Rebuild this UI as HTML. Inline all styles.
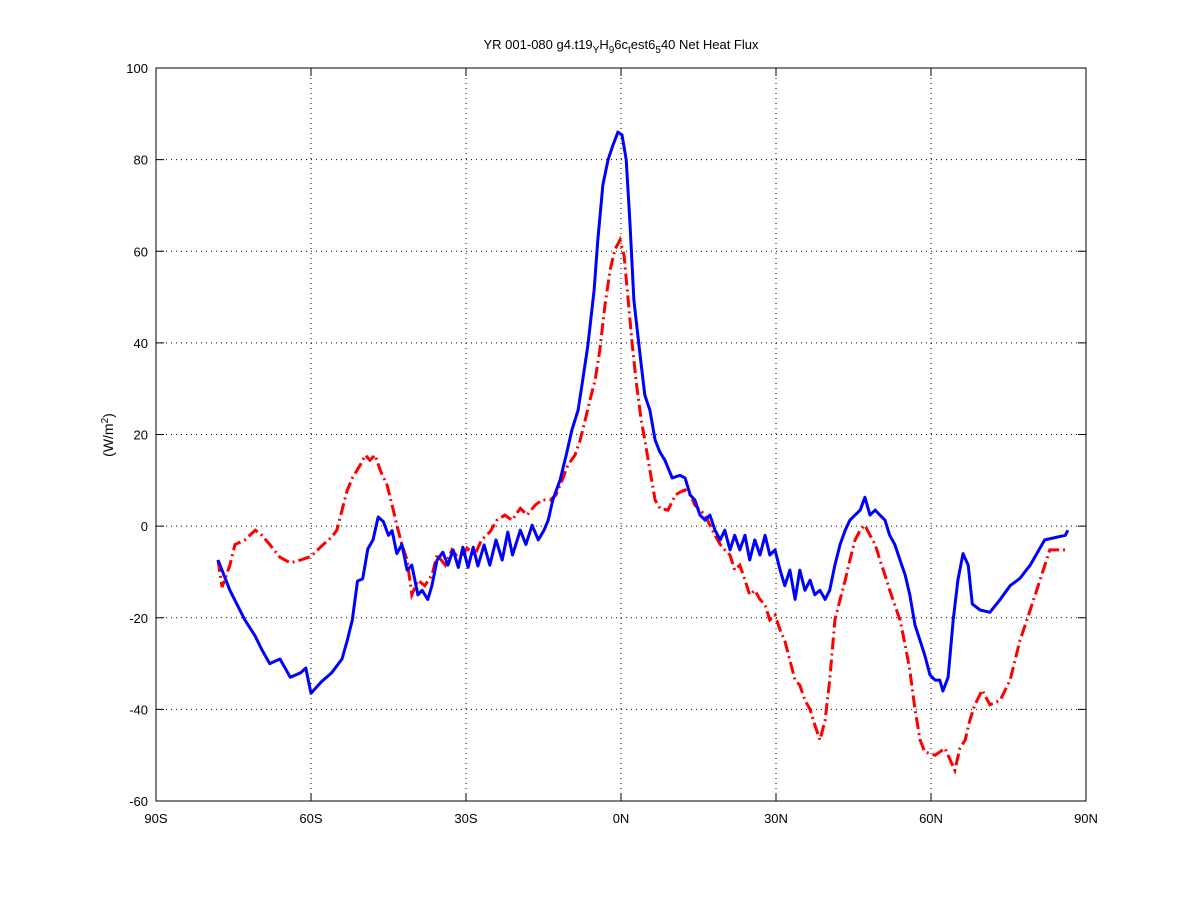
<!DOCTYPE html>
<html><head><meta charset="utf-8"><style>
body{margin:0;background:#fff;}
svg text{font-family:"Liberation Sans",sans-serif;fill:#000;}
</style></head><body>
<svg id="chart" width="1200" height="900" xmlns="http://www.w3.org/2000/svg">
<rect width="1200" height="900" fill="#fff"/>
<text x="621" y="49" font-size="13" text-anchor="middle">YR 001-080 g4.t19<tspan dy="4" font-size="10">Y</tspan><tspan dy="-4">H</tspan><tspan dy="4" font-size="10">9</tspan><tspan dy="-4">6c</tspan><tspan dy="4" font-size="10">t</tspan><tspan dy="-4">est6</tspan><tspan dy="4" font-size="10">5</tspan><tspan dy="-4">40    Net Heat Flux</tspan></text>
<text transform="translate(113,435) rotate(-90)" font-size="14" text-anchor="middle">(W/m<tspan dy="-5" font-size="10">2</tspan><tspan dy="5">)</tspan></text>
<g id="grid"></g><g id="series"></g><g id="axes"></g>
</svg>
<script>
const xTicks=[-90,-60,-30,0,30,60,90];
const xTickLabels=["90S","60S","30S","0N","30N","60N","90N"];
const yTicks=[-60,-40,-20,0,20,40,60,80,100];
const blueLat=[-78,-75.7,-72.8,-70.8,-69.5,-68,-66,-64,-62,-61,-60,-58,-56,-54,-53,-52,-51,-50,-49,-48,-47,-46,-45,-44.3,-43.4,-42.4,-41.4,-40.5,-39.3,-38.5,-37.4,-36.6,-35.6,-34.5,-33.5,-32.5,-31.5,-30.6,-29.6,-28.6,-27.7,-26.5,-25.4,-24.2,-23,-21.9,-21,-19.5,-18.4,-17.2,-16,-14.9,-14.1,-13.2,-11.8,-10.6,-9.5,-8.3,-7.4,-6.4,-5.2,-4.5,-3.5,-2.5,-1.6,-0.6,0.2,1,1.7,2.5,3.7,4.6,5.6,6.6,7.5,8.5,9.9,11.4,12.4,13.4,14.3,15.3,16.3,17.2,18.2,19.2,20.1,21.1,22,23,24,24.9,25.9,26.9,27.9,28.8,29.8,30.8,31.7,32.7,33.7,34.6,35.6,36.6,37.5,38.5,39.5,40.4,41.4,42.4,43.4,44.3,45.3,46.3,47.2,48.2,49.2,50.1,51.1,52,53,54,55,55.9,56.9,57.9,58.8,59.8,60.8,61.7,62.3,63.3,64.3,65.2,66.2,67.2,68,69.5,71.4,73.4,75.3,77.2,79.2,82,86,86.5];
const blueVal=[-7.4,-14,-20.5,-24,-27,-30,-29,-33,-32,-31,-36.5,-34,-32,-29,-25,-20.5,-12,-11.5,-5,-3,2,1,-2,-1,-6,-4,-9.6,-8.5,-15,-14,-16,-13,-7.4,-5.7,-8.5,-5.2,-9,-4.6,-9,-4.6,-8.7,-4.1,-8.5,-3,-7.4,-1.3,-6.3,-0.9,-4,0.2,-3,-0.9,1.3,5.7,10,15.5,21,25.3,32,39.5,51.5,62.4,74.5,80,83,86,85.4,80,66.8,49.3,37.3,28.6,25.3,18.8,16.2,14.4,10.5,11.1,10.5,6.8,5.7,2.4,1.3,2.4,-0.9,-3,-0.9,-5.2,-2,-5.2,-2,-7.4,-3,-6.3,-2,-6.3,-5.2,-9.6,-13,-9.6,-16,-9.6,-14,-11.8,-15,-14,-16,-14,-8.5,-4,-0.9,1.3,2.4,3.5,6.3,2.4,3.5,2.4,1.3,-2,-4,-7.4,-10.7,-15,-21.6,-25,-28.2,-32.5,-33.6,-33.6,-36,-33,-20.5,-11.8,-6,-8.5,-17,-18.3,-18.8,-16,-13,-11.4,-8.5,-3,-2,-0.9];
const redLat=[-78,-77.2,-75.7,-74.7,-72.8,-70.8,-69.5,-68,-66,-64,-62,-60,-58,-56,-55,-54,-53,-52,-50.5,-49.5,-48.6,-47.6,-46.6,-45.3,-44.3,-43.4,-42.4,-41.4,-40.5,-39.3,-38,-36.6,-35.6,-34,-32.7,-31.2,-29.8,-28.3,-27,-25.4,-24,-22.5,-21.1,-19.5,-18.2,-16.6,-15.3,-13.7,-12.6,-11.4,-10.3,-8.9,-7.9,-6.97,-6,-5,-4.1,-3.1,-2.1,-1.2,-0.2,0.6,1.4,2.1,2.9,3.9,4.6,5.6,6.6,7.5,9.1,10.5,11.4,12.4,13.4,14.3,15.3,16.3,17.2,18.2,19.2,20.1,21.1,22,23,24,24.9,25.9,26.9,27.9,28.8,29.8,30.8,31.7,32.7,33.7,34.6,35.6,36.6,37.5,38.5,39.5,40.4,41.4,42.4,43.4,44.3,45.3,46.3,47.2,48.2,49.2,50.1,51.1,52,53,54,55,55.9,56.9,57.9,58.8,60.8,62.7,63.7,64.6,65.6,66.6,67.5,68.5,69.9,71.4,73.4,75.3,77.2,79.2,81.1,83,86];
const redVal=[-7.4,-13.3,-8.5,-4,-3,-0.9,-2,-4,-6.8,-8,-7.4,-6.6,-4.4,-2.4,-0.9,3.5,7.8,10.5,13.3,15.5,14.4,15.5,12.2,9,4.6,0.2,-4,-7.4,-15,-11.8,-13,-10.7,-6.3,-8.5,-5.2,-7.4,-4.8,-6.3,-3,-1.3,1.3,2.4,1.3,3.9,2.4,4.6,5.7,5.7,6.8,10,13.3,15.5,18.8,23,27.5,32,38.4,48.3,56,60.3,62.5,59,49.3,40.6,31.9,23.1,18.8,12.2,5.7,3.9,3.5,6.8,7.4,7.9,6.8,4.6,3.5,2.4,0.2,-2,-4,-5.2,-6.3,-9.6,-8.5,-11.8,-15,-14,-16,-17.2,-20.5,-19.4,-22.7,-25,-29.3,-33.6,-34.7,-38,-40,-43.4,-46.7,-42.4,-33.6,-20.5,-16,-11.8,-7.4,-3,-0.9,0.2,-2,-4,-7.4,-10.7,-14,-17.2,-20.5,-26,-31.4,-40,-46.7,-49.3,-50,-48.5,-51,-53.3,-48.5,-46.7,-42.4,-39,-35.8,-39,-38,-33.6,-25,-18.3,-11.8,-5.2,-5.2];

const L=156,R=1086,T=68,B=801;
const xs=v=>L+(v+90)/180*(R-L);
const ys=v=>B-(v+60)/160*(B-T);
const NS="http://www.w3.org/2000/svg";
function mk(tag,attrs,parent){const e=document.createElementNS(NS,tag);for(const k in attrs)e.setAttribute(k,attrs[k]);parent.appendChild(e);return e;}
const grid=document.getElementById('grid'),axes=document.getElementById('axes'),series=document.getElementById('series');
xTicks.forEach((t,i)=>{
  const x=xs(t);
  if(i>0&&i<xTicks.length-1){const g=mk('line',{x1:x,x2:x,y1:T,y2:B,stroke:'#000','stroke-width':1,'stroke-dasharray':'1,4'},grid);
  
  }
  mk('line',{x1:x,x2:x,y1:B,y2:B-8,stroke:'#000'},axes);
  mk('line',{x1:x,x2:x,y1:T,y2:T+8,stroke:'#000'},axes);
  const tx=mk('text',{x:x,y:B+22,'font-size':13,'text-anchor':'middle'},axes);
  tx.textContent=xTickLabels[i];
  
  
});
yTicks.forEach((t,i)=>{
  const y=ys(t);
  if(i>0&&i<yTicks.length-1){const g=mk('line',{x1:L,x2:R,y1:y,y2:y,stroke:'#000','stroke-width':1,'stroke-dasharray':'1,4'},grid);
  
  }
  mk('line',{x1:L,x2:L+8,y1:y,y2:y,stroke:'#000'},axes);
  mk('line',{x1:R,x2:R-8,y1:y,y2:y,stroke:'#000'},axes);
  const tx=mk('text',{x:L-8,y:y+5,'font-size':13,'text-anchor':'end'},axes);
  tx.textContent=String(t);
  
  
});
const box=mk('rect',{x:L,y:T,width:R-L,height:B-T,fill:'none',stroke:'#000'},axes);


function pts(lat,val){return lat.map((v,i)=>xs(v).toFixed(1)+','+ys(val[i]).toFixed(1)).join(' ');}
const red=mk('polyline',{points:pts(redLat,redVal),fill:'none',stroke:'#ff0000','stroke-width':3,'stroke-dasharray':'12,4,2,4'},series);


const blue=mk('polyline',{points:pts(blueLat,blueVal),fill:'none',stroke:'#0000ff','stroke-width':3,'stroke-linejoin':'round'},series);


</script>
</body></html>
